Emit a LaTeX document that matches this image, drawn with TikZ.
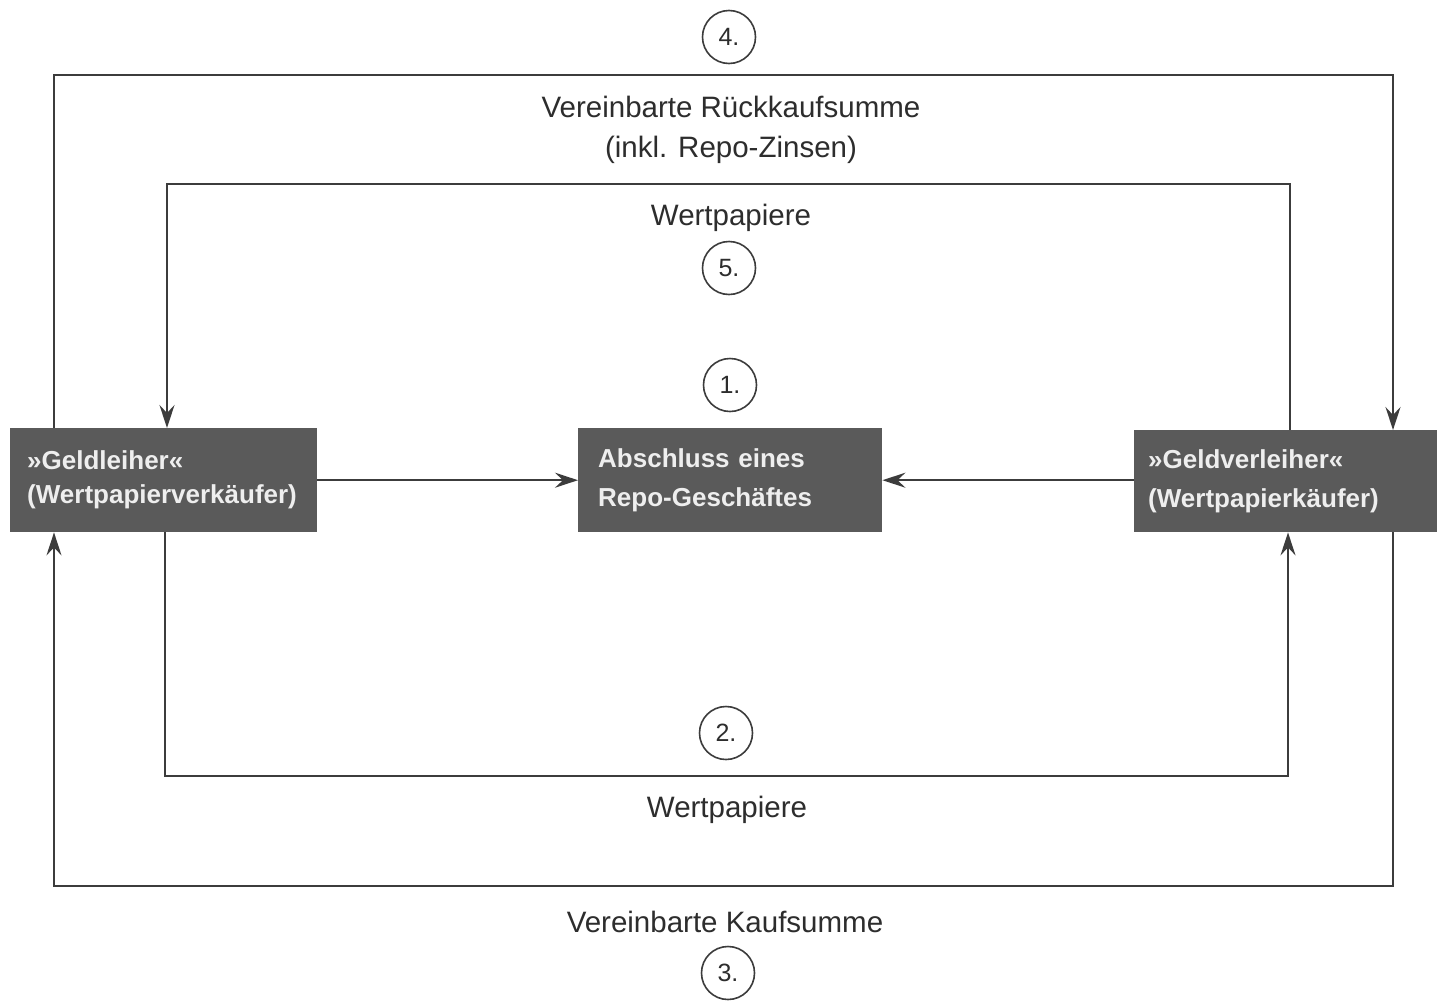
\documentclass[tikz,border=0pt]{standalone}
\usepackage{fontspec}
\setmainfont{Liberation Sans}
\usetikzlibrary{arrows.meta}
\definecolor{boxgray}{RGB}{90,90,90}
\definecolor{linegray}{RGB}{60,60,60}
\definecolor{txtgray}{RGB}{45,45,45}
\definecolor{boxtxt}{RGB}{238,238,238}
\tikzset{
  actor/.style={fill=boxgray, draw=none, text=boxtxt, align=left, anchor=north west,
    inner ysep=0pt, font=\fontsize{26}{34}\selectfont\bfseries},
  flow/.style={draw=linegray, line width=2pt, -{Stealth[length=23pt,width=15pt,inset=8pt]}},
  numcirc/.style={circle, draw=linegray, line width=1.6pt, minimum size=53pt, inner sep=0pt,
    text=txtgray, font=\fontsize{25}{27}\selectfont},
  lbl/.style={anchor=base, text=txtgray, inner sep=0pt, font=\fontsize{29.5}{32}\selectfont}
}
\begin{document}
\begin{tikzpicture}[x=1pt,y=-1pt]
\useasboundingbox (0,0) rectangle (1437,1004);
\fill[white] (0,0) rectangle (1437,1004);

% boxes
\node[actor, inner xsep=17pt, text width=273pt, minimum height=104pt] (L) at (10,428)
  {»Geldleiher«\\(Wertpapierverkäufer)};
\node[actor, inner xsep=20pt, text width=264pt, minimum height=104pt,
  font=\fontsize{26}{39}\selectfont\bfseries] (C) at (578,428)
  {Abschluss eines\\Repo-Geschäftes};
\node[actor, inner xsep=14pt, text width=275pt, minimum height=102pt,
  font=\fontsize{26}{39}\selectfont\bfseries] (R) at (1134,430)
  {»Geldverleiher«\\(Wertpapierkäufer)};

% corner coordinates
\coordinate (a4) at (54,75);   \coordinate (b4) at (1393,75);
\coordinate (a5) at (1290,184); \coordinate (b5) at (167,184);
\coordinate (a2) at (165,776); \coordinate (b2) at (1288,776);
\coordinate (a3) at (1393,886); \coordinate (b3) at (54,886);

% connectors
\draw[flow] (L.east) -- (C.west);
\draw[flow] (R.west |- C.west) -- (C.east);
\draw[flow] (a4 |- L.north) -- (a4) -- (b4) -- (b4 |- R.north);
\draw[flow] (a5 |- R.north) -- (a5) -- (b5) -- (b5 |- L.north);
\draw[flow] (a2 |- L.south) -- (a2) -- (b2) -- (b2 |- R.south);
\draw[flow] (a3 |- R.south) -- (a3) -- (b3) -- (b3 |- L.south);

% circled numbers
\node[numcirc] (n4) at (729,37) {4.};
\node[numcirc] (n5) at (729,268) {5.};
\node[numcirc] (n1) at (730,385) {1.};
\node[numcirc] (n2) at (726,733) {2.};
\node[numcirc] (n3) at (728,973) {3.};

% labels
\node[lbl] (t4a) at (731,117) {Vereinbarte Rückkaufsumme};
\node[lbl] (t4b) at (731,157) {(inkl. Repo-Zinsen)};
\node[lbl] (t5) at (731,225) {Wertpapiere};
\node[lbl] (t2) at (727,817) {Wertpapiere};
\node[lbl] (t3) at (725,932) {Vereinbarte Kaufsumme};
\end{tikzpicture}
\end{document}
